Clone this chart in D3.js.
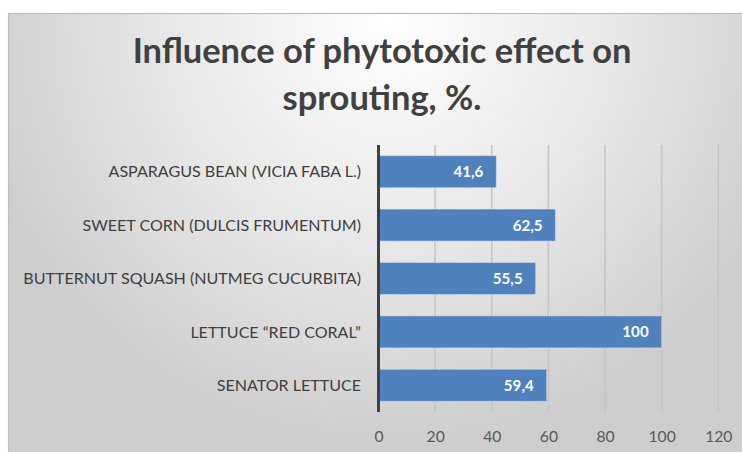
<!DOCTYPE html>
<html><head><meta charset="utf-8">
<script src="https://cdn.jsdelivr.net/npm/d3@7"></script>
<style>html,body{margin:0;padding:0;background:#fff;}svg{display:block;}</style>
</head><body>
<svg id="c" width="742" height="452"></svg>
<script>
const categories = ["ASPARAGUS BEAN (VICIA FABA L.)", "SWEET CORN (DULCIS FRUMENTUM)", "BUTTERNUT SQUASH (NUTMEG CUCURBITA)", "LETTUCE \u201CRED CORAL\u201D", "SENATOR LETTUCE"];
const values = [41.6, 62.5, 55.5, 100, 59.4];
const valueLabels = ["41,6", "62,5", "55,5", "100", "59,4"];
const xTicks = [0, 20, 40, 60, 80, 100, 120];
const titleLines = ["Influence of phytotoxic effect on", "sprouting, %."];

const FONT = "Lato, 'Open Sans', sans-serif";
const svg = d3.select("#c");
const defs = svg.append("defs");
const grad = defs.append("radialGradient").attr("id","bg")
  .attr("gradientUnits","userSpaceOnUse").attr("cx",390).attr("cy",20).attr("r",430);
grad.append("stop").attr("offset",0).attr("stop-color","#ffffff");
grad.append("stop").attr("offset",0.55).attr("stop-color","#e6e6e6");
grad.append("stop").attr("offset",1).attr("stop-color","#cdcdcd");

svg.append("rect").attr("x",8.5).attr("y",13.5).attr("width",740).attr("height",445)
  .attr("fill","url(#bg)").attr("stroke","#bdbdbd").attr("stroke-width",1.2);

const x = d3.scaleLinear().domain([0,120]).range([378.5, 718.3]);
const y = d3.scaleBand().domain(categories).range([145, 412]).paddingInner(0.4).paddingOuter(0.2);

// fit helper
function fit(sel, target){
  const w = sel.node().getComputedTextLength();
  const fs = parseFloat(sel.attr("font-size"));
  return fs * target / w;
}

// gridlines
svg.append("g").selectAll("line").data(xTicks.filter(d=>d>0)).join("line")
  .attr("x1",d=>x(d)).attr("x2",d=>x(d)).attr("y1",145).attr("y2",412)
  .attr("stroke","#c4c4c4").attr("stroke-width",1.5);

// bars
svg.append("g").selectAll("rect").data(values).join("rect")
  .attr("x",x(0)).attr("y",(d,i)=>y(categories[i]))
  .attr("width",d=>x(d)-x(0)).attr("height",y.bandwidth())
  .attr("fill","#4f81bd").attr("stroke","#dfe8f3").attr("stroke-width",0.8)
  .attr("stroke-dasharray","1.5,1");

// axis line
svg.append("line").attr("x1",x(0)).attr("x2",x(0)).attr("y1",145).attr("y2",412)
  .attr("stroke","#404040").attr("stroke-width",3);

// x tick labels via axis
const xAxis = d3.axisBottom(x).tickValues(xTicks).tickSize(0).tickPadding(0);
const gx = svg.append("g").attr("transform","translate(0,442)").call(xAxis);
gx.select(".domain").remove();
gx.selectAll("text").attr("font-family",FONT).attr("fill","#595959").attr("dy",0).attr("font-size",17);
{
  const t = gx.selectAll("text").filter(d=>d===100);
  const fs = fit(t, 27.3);
  gx.selectAll("text").attr("font-size",fs);
}

// category labels
const gy = svg.append("g");
const cl = gy.selectAll("text").data(categories).join("text")
  .attr("x",361).attr("y",d=>y(d)+y.bandwidth()/2).attr("dy","0.36em")
  .attr("text-anchor","end").attr("font-family",FONT).attr("fill","#404040")
  .attr("font-size",16).text(d=>d);
{
  const t = cl.filter((d,i)=>i===2);
  cl.attr("font-size", fit(t, 338));
}

// value labels
const vl = svg.append("g").selectAll("text").data(values).join("text")
  .attr("x",d=>x(d)-13).attr("y",(d,i)=>y(categories[i])+y.bandwidth()/2).attr("dy","0.36em")
  .attr("text-anchor","end").attr("font-family",FONT).attr("font-weight","bold")
  .attr("fill","#ffffff").attr("font-size",16).text((d,i)=>valueLabels[i]);
{
  const t = vl.filter((d,i)=>i===3);
  vl.attr("font-size", fit(t, 26.3));
}

// title
const tt = svg.append("g").selectAll("text").data(titleLines).join("text")
  .attr("x",382).attr("y",(d,i)=>i===0?63:110).attr("text-anchor","middle")
  .attr("font-family",FONT).attr("font-weight","bold").attr("fill","#404040")
  .attr("font-size",30).text(d=>d);
{
  const t = tt.filter((d,i)=>i===0);
  tt.attr("font-size", fit(t, 499));
}
</script>
</body></html>
